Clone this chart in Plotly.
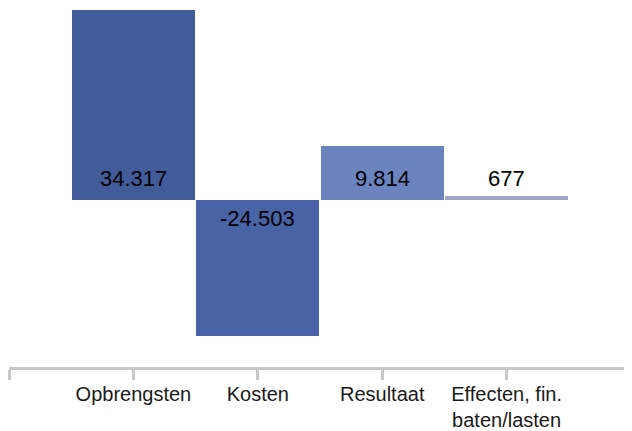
import plotly.graph_objects as go

categories = ["Opbrengsten", "Kosten", "Resultaat", "Effecten, fin.<br>baten/lasten"]
values = [34317, -24503, 9814, 677]
bar_colors = ["#425B9A", "#4863A6", "#6B84C0", "#9DA9C6"]

positions = list(range(len(categories)))

def fmt(v):
    return f"{v:,}".replace(",", ".")

fig = go.Figure()
fig.add_trace(go.Bar(
    x=positions,
    y=values,
    width=0.99,
    marker=dict(color=bar_colors, line=dict(width=0)),
    hoverinfo="skip",
))

for x, v in zip(positions, values):
    fig.add_annotation(
        x=x, y=0, text=fmt(v), showarrow=False,
        yanchor="bottom" if v >= 0 else "top",
        yshift=7 if v >= 0 else -4,
        font=dict(family="Liberation Sans, Arial, sans-serif", size=22, color="#000000"),
    )

# page body has an 8px margin, so the figure is sized to fill the rest of the window
fig.update_layout(
    width=624, height=423,
    margin=dict(l=1, r=1, t=2, b=64, autoexpand=False),
    paper_bgcolor="white", plot_bgcolor="white",
    showlegend=False,
    bargap=0,
    xaxis=dict(
        range=[-1, 4],
        tickmode="array",
        tickvals=[-1] + positions + [4],
        ticktext=[""] + categories + [""],
        automargin=False,
        showline=True, linecolor="#C8C8C8", linewidth=3,
        ticks="outside", ticklen=10, tickwidth=3, tickcolor="#C8C8C8",
        ticklabelstandoff=-3,
        showgrid=False, zeroline=False,
        tickfont=dict(family="Liberation Sans, Arial, sans-serif", size=20, color="#1A1A1A"),
        fixedrange=True,
    ),
    yaxis=dict(
        range=[-30160, 34317],
        automargin=False,
        visible=False, showgrid=False, zeroline=False,
        fixedrange=True,
    ),
)

fig.write_html("out.html", config={"displayModeBar": False})
